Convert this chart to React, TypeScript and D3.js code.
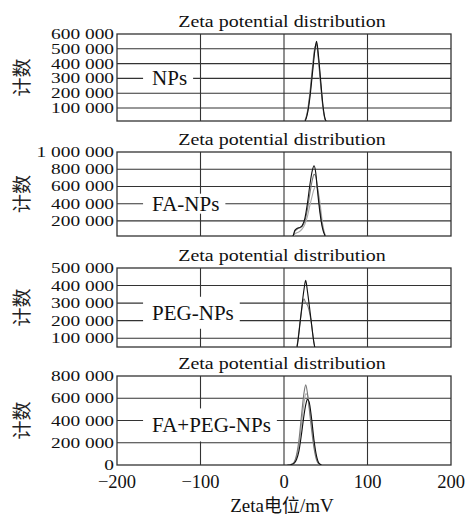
import React, { useRef, useEffect } from "react";
import * as d3 from "d3";

// x axis (Zeta potential, mV)
const X_TICKS = [-200, -100, 0, 100, 200];
const X_GRID = [-100, 0, 100];

// NPs
const NP_X = [22, 25, 28, 31, 34, 37, 39, 41, 44, 47, 50, 53];
const NP_RUN1 = [0, 10000, 60000, 170000, 330000, 490000, 550000, 470000, 280000, 100000, 15000, 0];
const NP_RUN2 = [0, 15000, 75000, 200000, 370000, 510000, 530000, 440000, 250000, 85000, 10000, 0];
const NP_RUN3 = [0, 12000, 65000, 185000, 350000, 500000, 540000, 455000, 265000, 95000, 12000, 0];
const NP_TICKS = [100000, 200000, 300000, 400000, 500000, 600000];

// FA-NPs
const FA_X = [8, 11, 13, 16, 19, 22, 25, 28, 31, 34, 36, 38, 40, 43, 46, 49, 52];
const FA_RUN1 = [0, 30000, 90000, 115000, 125000, 150000, 230000, 400000, 620000, 790000, 840000, 760000, 560000, 300000, 120000, 30000, 0];
const FA_RUN2 = [0, 25000, 80000, 105000, 120000, 140000, 200000, 330000, 520000, 680000, 740000, 720000, 600000, 340000, 140000, 35000, 0];
const FA_RUN3 = [0, 15000, 50000, 65000, 80000, 110000, 160000, 250000, 380000, 500000, 570000, 600000, 580000, 420000, 180000, 45000, 0];
const FA_TICKS = [200000, 400000, 600000, 800000, 1000000];

// PEG-NPs
const PEG_X = [12, 16, 20, 24, 26, 28, 32, 36, 40];
const PEG_RUN1 = [0, 60000, 220000, 380000, 430000, 370000, 220000, 70000, 0];
const PEG_RUN2 = [0, 70000, 220000, 325000, 300000, 290000, 210000, 70000, 0];
const PEG_TICKS = [100000, 200000, 300000, 400000, 500000];

// FA+PEG-NPs
const FP_X = [4, 8, 12, 15, 18, 21, 24, 26, 28, 30, 33, 36, 39, 42, 45];
const FP_RUN1 = [0, 3000, 15000, 50000, 130000, 280000, 450000, 540000, 590000, 570000, 420000, 220000, 80000, 15000, 0];
const FP_RUN2 = [0, 5000, 25000, 90000, 230000, 450000, 650000, 720000, 650000, 520000, 320000, 150000, 45000, 8000, 0];
const FP_RUN3 = [0, 4000, 20000, 70000, 180000, 370000, 560000, 640000, 630000, 540000, 370000, 180000, 60000, 10000, 0];
const FP_TICKS = [0, 200000, 400000, 600000, 800000];

const RUN_COLORS = ["#111", "#777", "#aaa"];

const panels = [
  { name: "NPs", x: NP_X, runs: [NP_RUN3, NP_RUN2, NP_RUN1], ticks: NP_TICKS, domain: [12000, 600000], top: 34, bottom: 121, labelX: -158, labelY: 300000, boxH: 21 },
  { name: "FA-NPs", x: FA_X, runs: [FA_RUN3, FA_RUN2, FA_RUN1], ticks: FA_TICKS, domain: [25000, 1000000], top: 152, bottom: 236, labelX: -158, labelY: 400000, boxH: 20 },
  { name: "PEG-NPs", x: PEG_X, runs: [PEG_RUN2, PEG_RUN1], ticks: PEG_TICKS, domain: [50000, 500000], top: 268, bottom: 347, labelX: -158, labelY: 245000, boxH: 32 },
  { name: "FA+PEG-NPs", x: FP_X, runs: [FP_RUN3, FP_RUN2, FP_RUN1], ticks: FP_TICKS, domain: [0, 800000], top: 376, bottom: 465, labelX: -158, labelY: 360000, boxH: 33 },
];

const W = 469;
const H = 517;
const LEFT = 117;
const RIGHT = 451;
const SERIF = "'Liberation Serif', 'DejaVu Serif', serif";
const CJK = "'Noto Sans CJK SC', sans-serif";
const GRID = "#333";

const fmt = d3.formatLocale({ decimal: ".", thousands: " ", grouping: [3], currency: ["", ""] }).format(",");

export default function App() {
  const svgRef = useRef<SVGSVGElement | null>(null);

  useEffect(() => {
    if (!svgRef.current) return;
    const svg = d3.select(svgRef.current);
    svg.selectAll("*").remove();

    const x = d3.scaleLinear().domain([-200, 200]).range([LEFT, RIGHT]);

    panels.forEach((p, pi) => {
      const y = d3.scaleLinear().domain(p.domain).range([p.bottom, p.top]);
      const g = svg.append("g");

      const clipId = `clip-${pi}`;
      svg.append("defs").append("clipPath").attr("id", clipId)
        .append("rect").attr("x", LEFT).attr("y", p.top).attr("width", RIGHT - LEFT).attr("height", p.bottom - p.top);

      // grid lines
      g.selectAll(".hg").data(p.ticks.filter((t) => t > p.domain[0] && t < p.domain[1])).join("line")
        .attr("x1", LEFT).attr("x2", RIGHT)
        .attr("y1", (d) => y(d)).attr("y2", (d) => y(d))
        .attr("stroke", GRID).attr("stroke-width", 1.1);
      g.selectAll(".vg").data(X_GRID).join("line")
        .attr("x1", (d) => x(d)).attr("x2", (d) => x(d))
        .attr("y1", p.top).attr("y2", p.bottom)
        .attr("stroke", GRID).attr("stroke-width", 1.1);
      g.append("rect")
        .attr("x", LEFT).attr("y", p.top).attr("width", RIGHT - LEFT).attr("height", p.bottom - p.top)
        .attr("fill", "none").attr("stroke", GRID).attr("stroke-width", 1.3);

      // y tick labels (horizontally stretched like the original)
      g.selectAll(".yt").data(p.ticks).join("text")
        .attr("transform", (d) => `translate(${LEFT - 3},${y(d) + 5}) scale(1.25,1)`)
        .attr("text-anchor", "end")
        .attr("font-family", SERIF).attr("font-size", 15.5).attr("fill", "#111")
        .text((d) => fmt(d));

      // title
      g.append("text")
        .attr("transform", `translate(282,${p.top - 7.5}) scale(1.13,1)`)
        .attr("text-anchor", "middle")
        .attr("font-family", SERIF).attr("font-size", 17.7).attr("fill", "#111")
        .text("Zeta potential distribution");

      // y axis label
      g.append("text")
        .attr("transform", `translate(29,${(p.top + p.bottom) / 2}) rotate(-90)`)
        .attr("text-anchor", "middle")
        .attr("font-family", CJK).attr("font-size", 19).attr("fill", "#222")
        .text("计数");

      // curves
      const line = d3.line<number>()
        .x((_, i) => x(p.x[i]))
        .y((d) => y(d))
        .curve(d3.curveMonotoneX);
      g.append("g").attr("clip-path", `url(#${clipId})`)
        .selectAll("path").data(p.runs).join("path")
        .attr("d", (d) => line(d))
        .attr("fill", "none")
        .attr("stroke", (_, i) => RUN_COLORS[p.runs.length - 1 - i])
        .attr("stroke-width", 1.1)
        .attr("stroke-linejoin", "round");

      // sample label with white box
      const lx = x(p.labelX);
      const ly = y(p.labelY);
      const box = g.append("rect").attr("fill", "#fff");
      const t = g.append("text")
        .attr("x", lx).attr("y", ly + 7)
        .attr("font-family", SERIF).attr("font-size", 21).attr("fill", "#111")
        .text(p.name);
      const bb = (t.node() as SVGTextElement).getBBox();
      box.attr("x", bb.x - 9).attr("y", ly - p.boxH / 2)
        .attr("width", bb.width + 15).attr("height", p.boxH);
    });

    // x axis ticks on bottom panel
    const last = panels[panels.length - 1];
    svg.append("g").selectAll("text").data(X_TICKS).join("text")
      .attr("x", (d) => x(d)).attr("y", last.bottom + 23)
      .attr("text-anchor", "middle")
      .attr("font-family", SERIF).attr("font-size", 18.5).attr("fill", "#111")
      .text((d) => (d < 0 ? "\u2212" + Math.abs(d) : String(d)));

    const xl = svg.append("text")
      .attr("x", 282).attr("y", 512)
      .attr("text-anchor", "middle")
      .attr("font-size", 19).attr("fill", "#111");
    xl.append("tspan").attr("font-family", SERIF).text("Zeta");
    xl.append("tspan").attr("font-family", CJK).attr("font-size", 18).text("电位");
    xl.append("tspan").attr("font-family", SERIF).text("/mV");
  }, []);

  return (
    <svg
      ref={svgRef}
      width={W}
      height={H}
      style={{ position: "absolute", left: 0, top: 0, background: "#fff" }}
    />
  );
}
